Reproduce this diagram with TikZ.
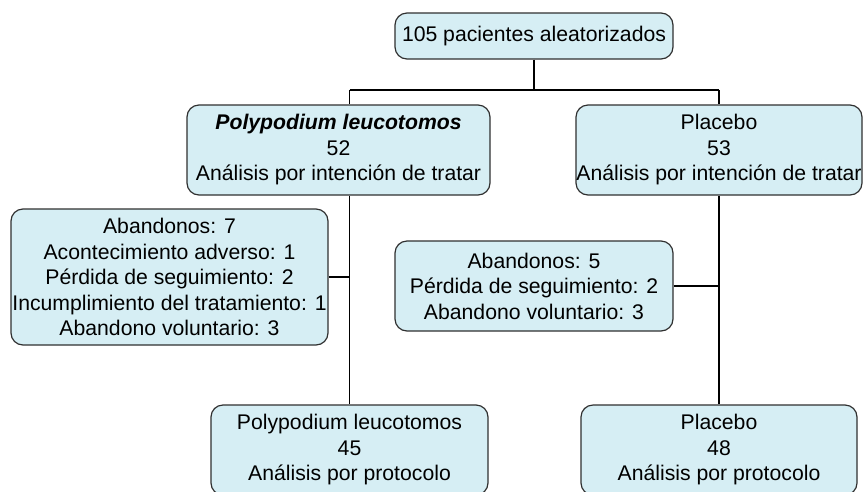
\documentclass[tikz,border=0pt]{standalone}
\usepackage{fontspec}
\setmainfont{Liberation Sans}
\definecolor{boxfill}{HTML}{D6EEF4}
\definecolor{boxline}{HTML}{303030}
\begin{document}
\begin{tikzpicture}[x=1pt,y=-1pt,
  box/.style={draw=boxline, fill=boxfill, line width=1.2pt, rounded corners=12pt,
    inner sep=0pt, align=center, font=\fontsize{21.2}{25.5}\selectfont},
  link/.style={draw=black, line width=1.1pt}]
\useasboundingbox (0,0) rectangle (864,491);
\clip (0,0) rectangle (864,491);
\node[box, minimum width=278pt, minimum height=46pt] (top) at (534,36) {105 pacientes aleatorizados};
\node[box, minimum width=303pt, minimum height=90pt] (pl) at (338.5,150)
  {\textbf{\textit{Polypodium leucotomos}}\\52\\Análisis por intención de tratar};
\node[box, minimum width=286pt, minimum height=90pt] (pb) at (719,150)
  {Placebo\\53\\Análisis por intención de tratar};
\node[box, minimum width=317pt, minimum height=136pt] (dl) at (169.5,277)
  {Abandonos: 7\\Acontecimiento adverso: 1\\Pérdida de seguimiento: 2\\Incumplimiento del tratamiento: 1\\Abandono voluntario: 3};
\node[box, minimum width=278pt, minimum height=90pt] (dr) at (534,286)
  {Abandonos: 5\\Pérdida de seguimiento: 2\\Abandono voluntario: 3};
\node[box, minimum width=277pt, minimum height=90pt] (plpp) at (349.5,450)
  {Polypodium leucotomos\\45\\Análisis por protocolo};
\node[box, minimum width=276pt, minimum height=90pt] (pbpp) at (719,450)
  {Placebo\\48\\Análisis por protocolo};
\coordinate (bl) at (349.5,90);
\coordinate (br) at (719,90);
\draw[link] (top.south) -- (top.south |- bl);
\draw[link] (bl) -- (br);
\draw[link] (bl) -- (bl |- pl.north);
\draw[link] (br) -- (pb.north);
\draw[link] (pl.south -| plpp.north) -- (plpp.north);
\draw[link] (dl.east) -- (dl.east -| plpp.north);
\draw[link] (pb.south) -- (pbpp.north);
\draw[link] (dr.east) -- (dr.east -| pbpp.north);
\end{tikzpicture}
\end{document}
